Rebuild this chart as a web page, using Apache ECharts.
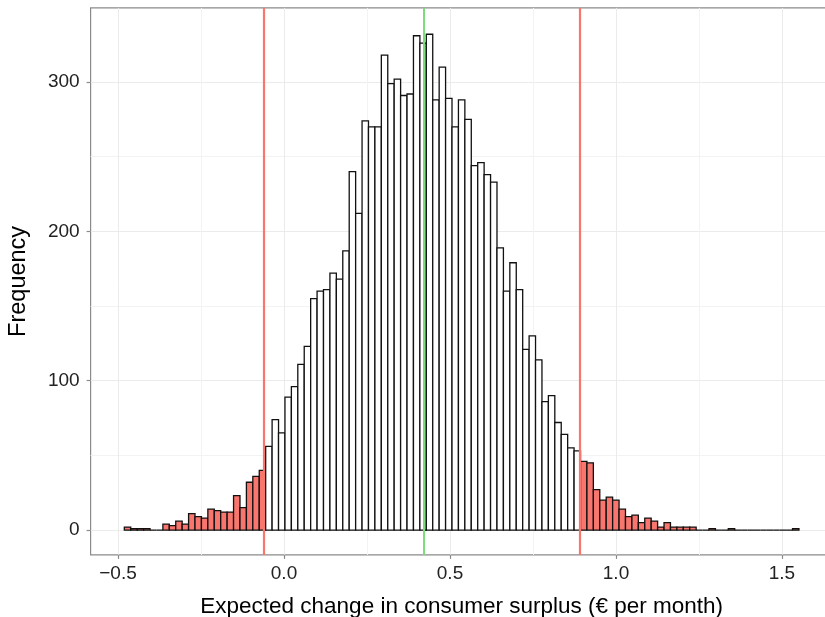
<!DOCTYPE html>
<html><head><meta charset="utf-8">
<script src="https://cdn.jsdelivr.net/npm/echarts@6/dist/echarts.min.js"></script>
<style>html,body{margin:0;padding:0;background:#fff}#c{width:825px;height:617px}</style>
</head><body><div id="c"></div>
<script>
// Histogram bins: start of first bin and common bin width (x units)
const binStart = -0.481;
const binWidth = 0.019354;
// Frequency per bin, left to right
const counts = [
  2, 1, 1, 1, 0, 0, 4, 3, 6, 4,
  11, 9, 8, 14, 13, 12, 12, 23, 15, 32,
  36, 40, 56, 74, 65, 89, 96, 111, 123, 155,
  160, 161, 172, 168, 187, 240, 212, 274, 270, 270,
  318, 299, 302, 291, 292, 331, 326, 332, 288, 310,
  289, 270, 288, 275, 244, 246, 238, 233, 189, 160,
  179, 161, 121, 130, 114, 86, 90, 72, 64, 55,
  53, 46, 45, 27, 20, 22, 20, 14, 9, 10,
  5, 8, 6, 2, 5, 2, 2, 2, 2, 0,
  0, 1, 0, 0, 1, 0, 0, 0, 0, 0,
  0, 0, 0, 0, 1
];
// Reference lines
const lowerCut = -0.0552;
const upperCut = 0.8931;
const centreLine = 0.4178;
// Axis ticks and ranges
const xTicks = [-0.5, 0, 0.5, 1, 1.5];
const yTicks = [0, 100, 200, 300];
const xRange = [-0.5826, 1.6528];
const yRange = [-16.65, 349.65];
const xTitle = 'Expected change in consumer surplus (€ per month)';
const yTitle = 'Frequency';

const data = counts.map((c, i) => {
  const x0 = binStart + i * binWidth;
  const x1 = x0 + binWidth;
  const mid = (x0 + x1) / 2;
  const tail = (mid < lowerCut || mid > upperCut) ? 1 : 0;
  return [x0, x1, c, tail];
});

const chart = echarts.init(document.getElementById('c'), null, {renderer: 'canvas'});
const fontFam = '"Liberation Sans", Arial, Helvetica, sans-serif';
const fmtX = v => (v < 0 ? '\u2212' + Math.abs(v).toFixed(1) : v.toFixed(1));

chart.setOption({
  animation: false,
  backgroundColor: '#ffffff',
  grid: {
    left: 90.6, right: -7.7, top: 7.9, bottom: 62.1,
    containLabel: false, outerBoundsMode: 'none',
    show: true, borderColor: '#8a8a8a', borderWidth: 1.2, backgroundColor: 'transparent'
  },
  xAxis: {
    type: 'value', min: xRange[0], max: xRange[1],
    minInterval: 0.5, maxInterval: 0.5,
    name: xTitle, nameLocation: 'middle', nameGap: 40,
    nameTextStyle: {fontFamily: fontFam, fontSize: 22.5, color: '#000'},
    axisLine: {show: false, onZero: false},
    axisTick: {show: true, length: 4, customValues: xTicks, lineStyle: {color: '#8a8a8a', width: 1.2}},
    axisLabel: {customValues: xTicks, formatter: fmtX, fontFamily: fontFam, fontSize: 19, color: '#222', margin: 9},
    splitLine: {show: true, lineStyle: {color: '#ebebeb', width: 1}},
    minorTick: {show: false, splitNumber: 2},
    minorSplitLine: {show: true, lineStyle: {color: '#f3f3f3', width: 1}}
  },
  yAxis: {
    type: 'value', min: yRange[0], max: yRange[1],
    minInterval: 100, maxInterval: 100,
    name: yTitle, nameLocation: 'middle', nameGap: 60,
    nameTextStyle: {fontFamily: fontFam, fontSize: 23.5, color: '#000'},
    axisLine: {show: false, onZero: false},
    axisTick: {show: true, length: 4, customValues: yTicks, lineStyle: {color: '#8a8a8a', width: 1.2}},
    axisLabel: {customValues: yTicks, fontFamily: fontFam, fontSize: 19, color: '#222', margin: 11},
    splitLine: {show: true, lineStyle: {color: '#ebebeb', width: 1}},
    minorTick: {show: false, splitNumber: 2},
    minorSplitLine: {show: true, lineStyle: {color: '#f3f3f3', width: 1}}
  },
  series: [
    {
      type: 'custom',
      data: data,
      encode: {x: [0, 1], y: 2},
      renderItem: function (params, api) {
        const x0 = api.value(0), x1 = api.value(1), c = api.value(2), tail = api.value(3);
        const p0 = api.coord([x0, 0]);
        const p1 = api.coord([x1, c]);
        return {
          type: 'rect',
          shape: {x: p0[0], y: p1[1], width: p1[0] - p0[0], height: p0[1] - p1[1]},
          style: {fill: tail ? '#F8766D' : '#ffffff', stroke: '#111111', lineWidth: 1.3}
        };
      },
      z: 2
    },
    {
      type: 'line',
      data: [],
      z: 5,
      markLine: {
        silent: true, symbol: ['none', 'none'], animation: false,
        label: {show: false},
        data: [
          {xAxis: lowerCut, lineStyle: {color: '#F8766D', width: 2.2, type: 'solid'}},
          {xAxis: upperCut, lineStyle: {color: '#F8766D', width: 2.2, type: 'solid'}},
          {xAxis: centreLine, lineStyle: {color: '#7CDB7C', width: 2, type: 'solid'}}
        ]
      }
    }
  ]
});
</script>
</body></html>
